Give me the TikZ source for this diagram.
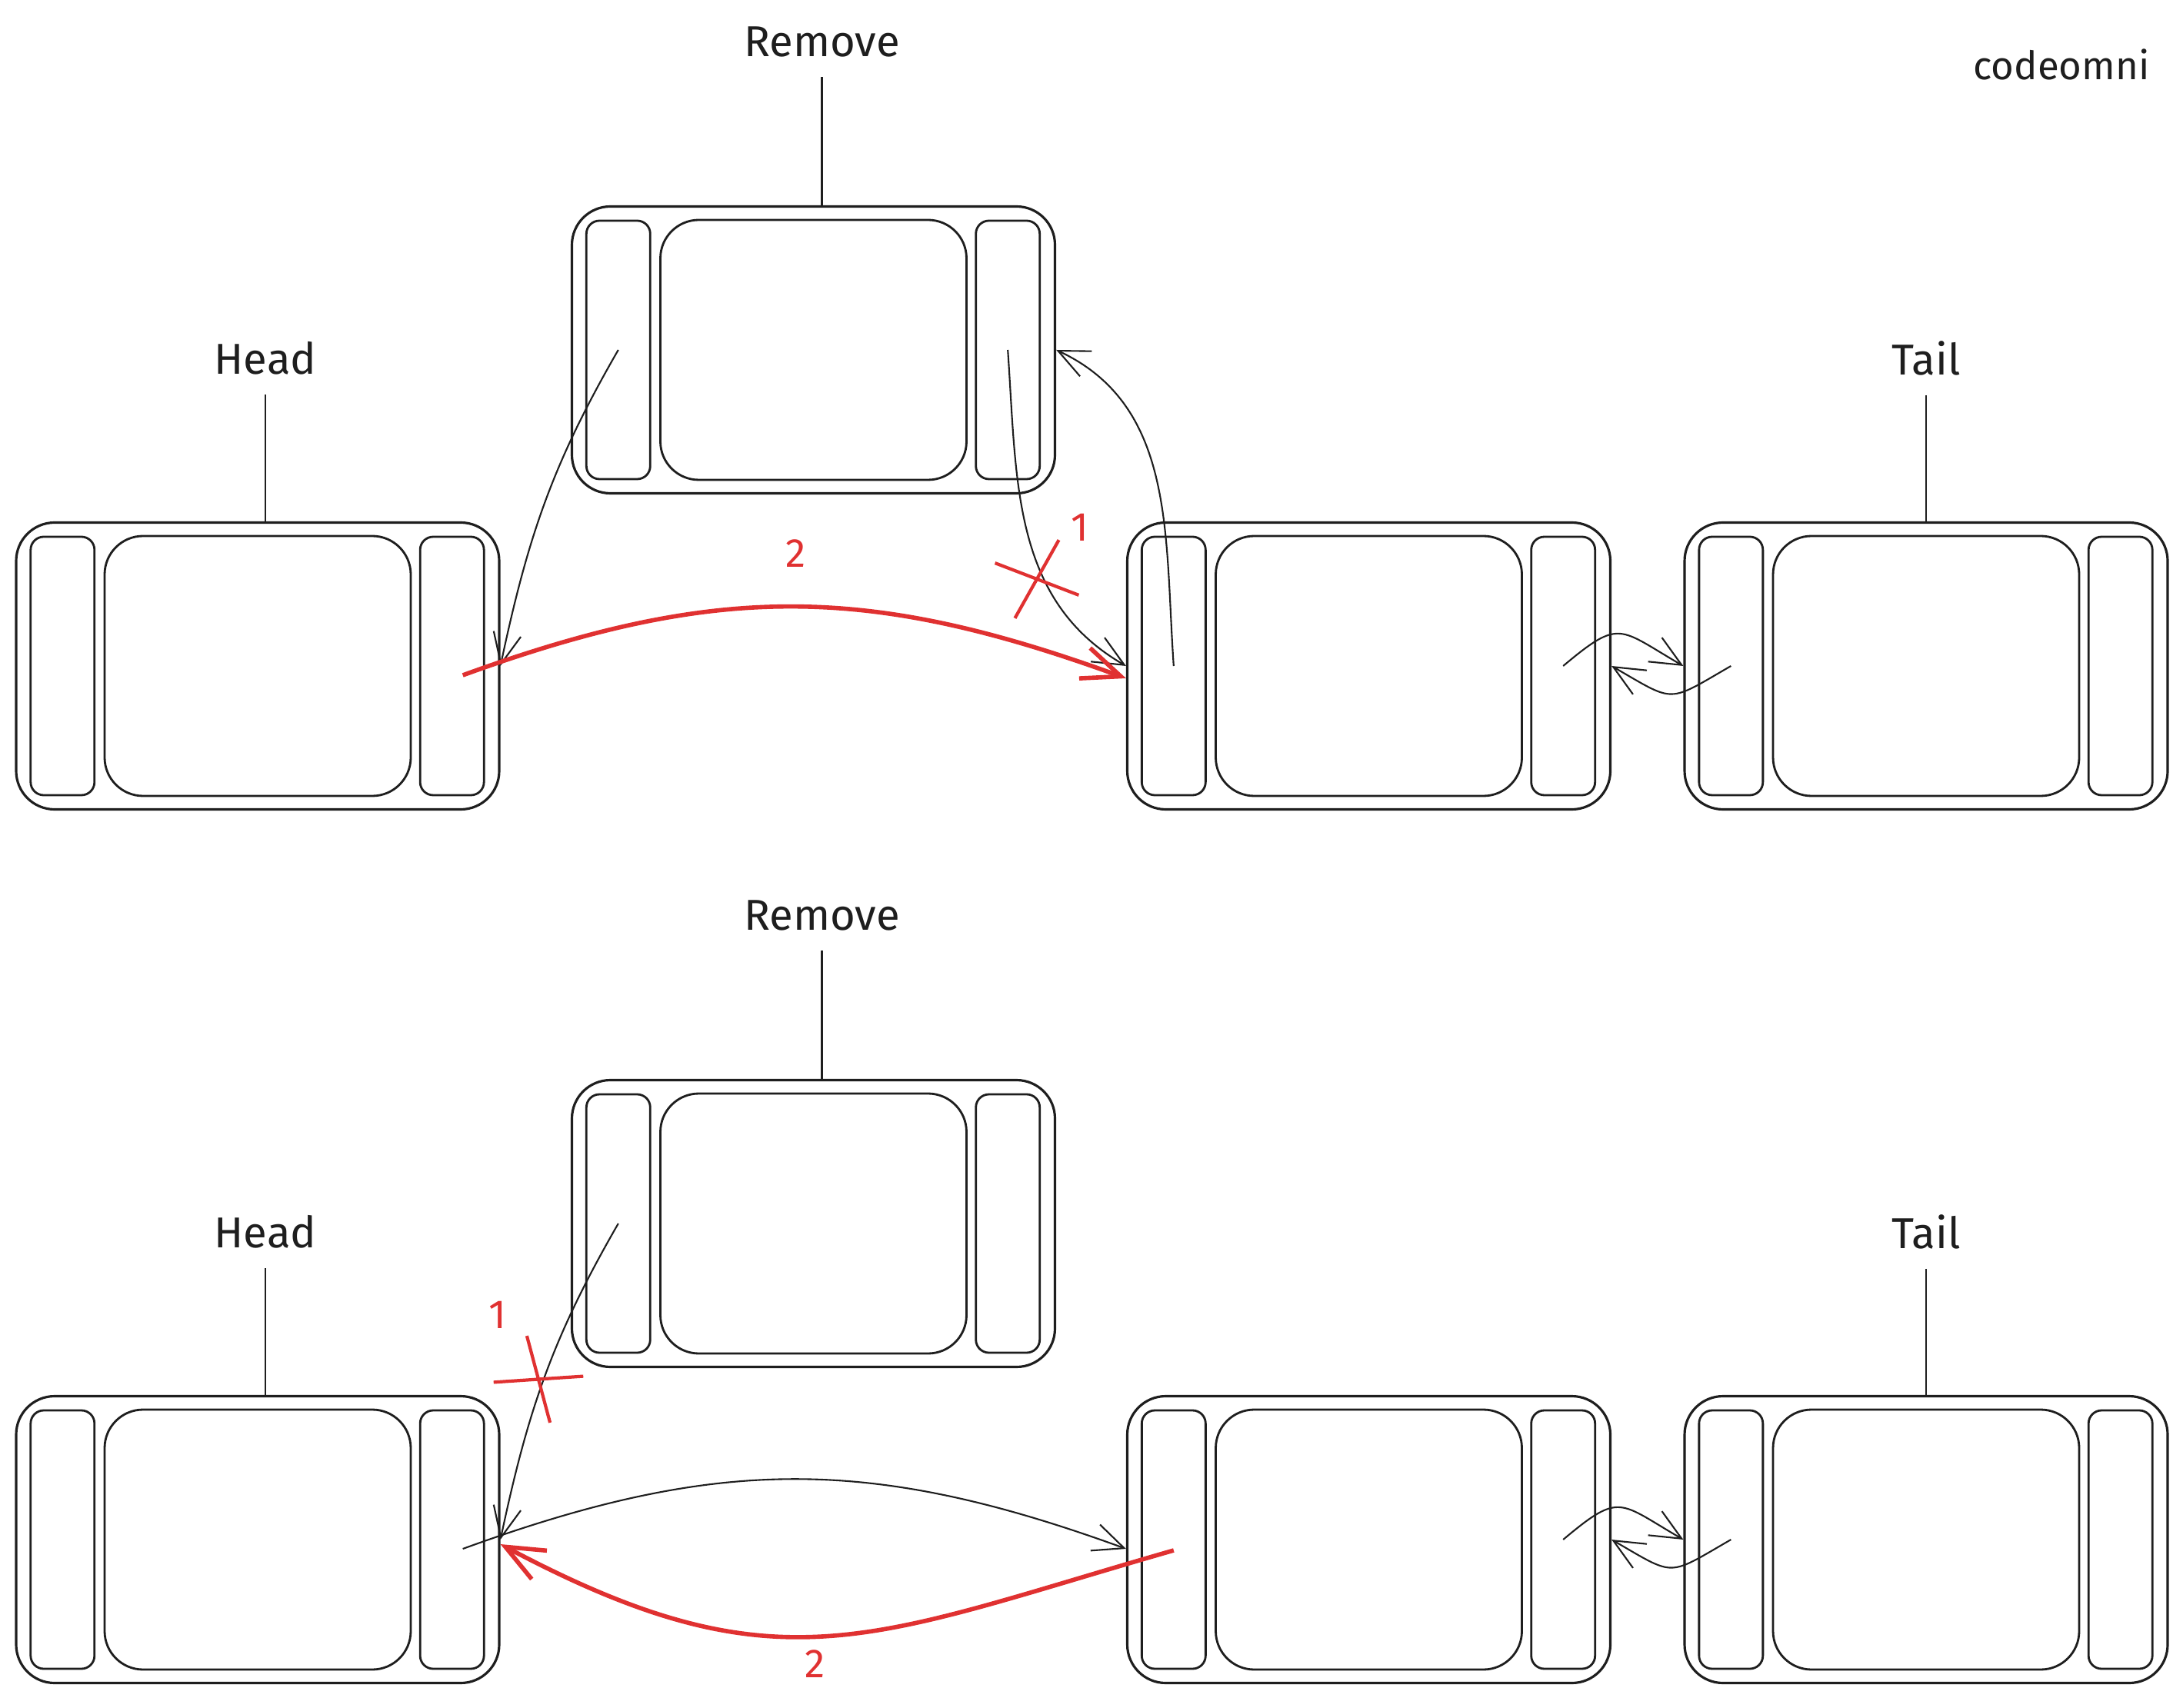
\documentclass[tikz,border=0pt]{standalone}
\usepackage{fontspec}
\setmainfont{Fira Sans}
\usepackage{tikz}
\usetikzlibrary{arrows.meta, positioning, calc, shapes.misc}
\definecolor{ink}{HTML}{1E1E1E}
\definecolor{pen}{HTML}{E03131}

\tikzset{
  box/.style={draw=ink, line width=0.9pt, rounded corners=0.5cm,
              minimum width=6.28cm, minimum height=3.73cm, inner sep=0pt},
  slot/.style={draw=ink, line width=0.8pt, rounded corners=0.17cm,
               minimum width=0.83cm, minimum height=3.36cm, inner sep=0pt},
  cell/.style={draw=ink, line width=0.8pt, rounded corners=0.5cm,
               minimum width=3.98cm, minimum height=3.38cm, inner sep=0pt},
  lbl/.style={font=\fontsize{16}{19}\selectfont, text=ink, inner sep=0.25cm},
  link/.style={draw=ink, line width=0.6pt,
               -{Straight Barb[length=4mm, width=3.6mm]}},
  redlink/.style={draw=pen, line width=1.6pt,
                  -{Straight Barb[length=5mm, width=4.2mm]}},
  cut/.style={draw=pen, line width=1.2pt, cross out, inner sep=0pt},
  num/.style={font=\fontsize{15}{18}\selectfont, text=pen},
}

\begin{document}
\begin{tikzpicture}
    \useasboundingbox (0,0) rectangle (28.38,-22.21);
    % list nodes, step 1 on top, step 2 below
    \foreach \n/\x/\y in {h1/3.35/-8.66, r1/10.575/-4.55, n1/17.795/-8.66, t1/25.04/-8.66,
                          h2/3.35/-20.02, r2/10.575/-15.91, n2/17.795/-20.02, t2/25.04/-20.02} {
      \node[box] (\n) at (\x,\y) {};
      \node[slot, anchor=west] (\n-l) at ([xshift=0.19cm]\n.west) {};
      \node[cell] (\n-m) at (\n.center) {};
      \node[slot, anchor=east] (\n-r) at ([xshift=-0.2cm]\n.east) {};}
    \foreach \n/\t/\dx in {h1/Head/0.1, r1/Remove/0.11, t1/Tail/0, h2/Head/0.1, r2/Remove/0.11, t2/Tail/0} {
      \node[lbl] (\n-lbl) at ([shift={(\dx,2.12)}]\n.north) {\t};
      \draw[ink, line width=0.6pt] (\n-lbl) -- (\n-lbl |- \n.north);}
    \node[font=\fontsize{14.5}{17}\selectfont, text=ink] (brand) at (26.8,-0.84) {codeomni};

    % step 1
    \draw[link] (r1-l.center) to[out=240, in=78] (h1.east);
    \draw[link] (r1-r.center) to[out=-86, in=150] (n1.west);
    \draw[link] (n1-l.center) to[out=94, in=-25] (r1.east);
    \draw[redlink] ([shift={(0.14,-0.12)}]h1-r.center) to[out=20, in=160, looseness=1.05] ([yshift=-0.16cm]n1.west);
    \draw[link] (n1-r.center) to[out=40, in=150, looseness=1.6] (t1.west);
    \draw[link] (t1-l.center) to[out=210, in=-30, looseness=1.6] (n1.east);
    \node[cut, minimum width=0.84cm, minimum height=0.72cm, rotate=19.85] (x1) at (13.48,-7.53) {};
    \node[num] (x1-num) at (14.04,-6.86) {1};
    \node[num] (a1-num) at (10.35,-7.2) {2};

    % step 2
    \draw[link] (r2-l.center) to[out=240, in=78] (h2.east);
    \draw[link] ([shift={(0.14,-0.12)}]h2-r.center) to[out=20, in=160, looseness=1.05] ([yshift=-0.12cm]n2.west);
    \draw[redlink] ([yshift=-0.14cm]n2-l.center) to[out=196, in=-28, looseness=1.2] ([yshift=-0.06cm]h2.east);
    \draw[link] (n2-r.center) to[out=40, in=150, looseness=1.6] (t2.west);
    \draw[link] (t2-l.center) to[out=210, in=-30, looseness=1.6] (n2.east);
    \node[cut, minimum width=0.86cm, minimum height=0.70cm, rotate=-35.6] (x2) at (7.00,-17.935) {};
    \node[num] (x2-num) at (6.47,-17.10) {1};
    \node[num] (a2-num) at (10.6,-21.64) {2};
\end{tikzpicture}
\end{document}
